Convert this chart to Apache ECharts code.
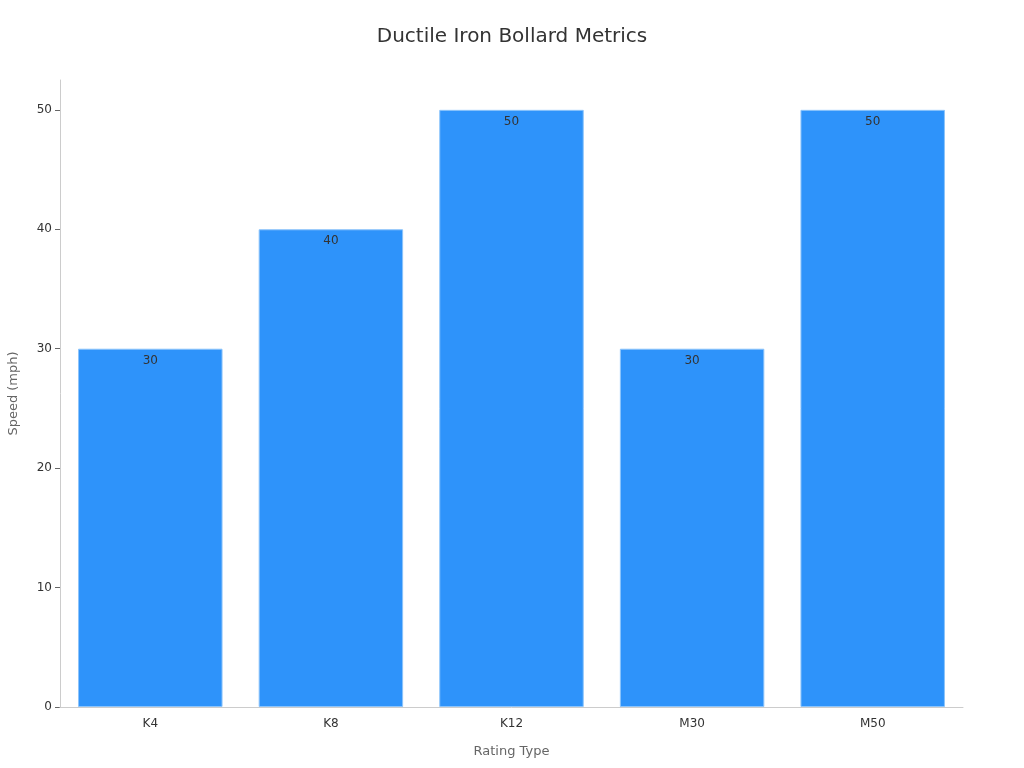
<!DOCTYPE html>
<html>
<head>
<meta charset="utf-8">
<script src="https://cdn.jsdelivr.net/npm/echarts@6/dist/echarts.min.js"></script>
<style>html,body{margin:0;padding:0;background:#fff}#c{width:1024px;height:768px}</style>
</head>
<body>
<div id="c"></div>
<script>
const categories = ['K4', 'K8', 'K12', 'M30', 'M50'];
const speeds = [30, 40, 50, 30, 50];
const yTicks = [0, 10, 20, 30, 40, 50];

const chart = echarts.init(document.getElementById('c'));
chart.setOption({
  animation: false,
  textStyle: { fontFamily: 'DejaVu Sans' },
  title: {
    text: 'Ductile Iron Bollard Metrics',
    left: 'center',
    top: 22,
    textStyle: { fontSize: 20, fontWeight: 'normal', color: '#333', fontFamily: 'DejaVu Sans' }
  },
  grid: { left: 60, right: 61, top: 80, bottom: 61, containLabel: false, outerBoundsMode: 'none' },
  xAxis: {
    type: 'category',
    data: categories,
    name: 'Rating Type',
    nameLocation: 'middle',
    nameGap: 38,
    nameTextStyle: { fontSize: 13, color: '#666' },
    axisLine: { lineStyle: { color: '#ccc' } },
    axisTick: { alignWithLabel: true, length: 5, lineStyle: { color: '#666' } },
    axisLabel: { color: '#333', fontSize: 12, margin: 11 },
    z: 3
  },
  yAxis: {
    type: 'value',
    min: 0,
    max: 52.5,
    interval: 10,
    name: 'Speed (mph)',
    nameLocation: 'middle',
    nameGap: 40,
    nameTextStyle: { fontSize: 13, color: '#666' },
    axisLine: { show: true, lineStyle: { color: '#ccc' } },
    axisTick: { show: true, length: 5, lineStyle: { color: '#666' }, customValues: yTicks },
    axisLabel: { color: '#333', fontSize: 12, margin: 8, customValues: yTicks },
    splitLine: { show: false }
  },
  series: [{
    type: 'bar',
    data: speeds,
    barWidth: '80%',
    itemStyle: { color: '#2E93FA', borderColor: '#8cc4fb', borderWidth: 1 },
    label: {
      show: true,
      position: 'insideTop',
      distance: 6,
      color: '#333',
      fontSize: 12
    }
  }]
});
</script>
</body>
</html>
